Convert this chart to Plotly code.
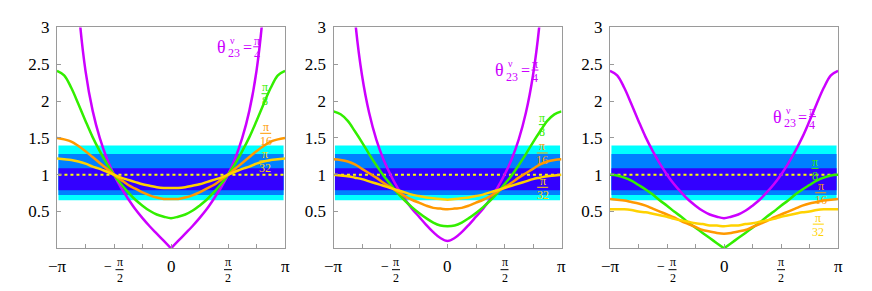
import math
import plotly.graph_objects as go

PI = math.pi

# ---------------- data ----------------
X_STEPS = list(range(-16, 17))            # x = step * pi/16
PANEL1 = {  # theta23^nu = pi/4, pi/8, pi/16, pi/32
    "pi/4": [None, 10.15, 5.03, 3.30, 2.41, 1.87, 1.50, 1.22, 1.00, 0.82, 0.67, 0.53, 0.41, 0.30, 0.20, 0.10, 0.00,
             0.10, 0.20, 0.30, 0.41, 0.53, 0.67, 0.82, 1.00, 1.22, 1.50, 1.87, 2.41, 3.30, 5.03, 10.15, None],
    "pi/8": [2.41, 2.35, 2.18, 1.96, 1.73, 1.51, 1.32, 1.15, 1.00, 0.87, 0.76, 0.66, 0.58, 0.51, 0.46, 0.43, 0.41,
             0.43, 0.46, 0.51, 0.58, 0.66, 0.76, 0.87, 1.00, 1.15, 1.32, 1.51, 1.73, 1.96, 2.18, 2.35, 2.41],
    "pi/16": [1.50, 1.48, 1.45, 1.39, 1.32, 1.24, 1.16, 1.08, 1.00, 0.93, 0.86, 0.81, 0.76, 0.72, 0.69, 0.67, 0.67,
              0.67, 0.69, 0.72, 0.76, 0.81, 0.86, 0.93, 1.00, 1.08, 1.16, 1.24, 1.32, 1.39, 1.45, 1.48, 1.50],
    "pi/32": [1.22, 1.21, 1.20, 1.18, 1.15, 1.11, 1.08, 1.04, 1.00, 0.96, 0.93, 0.90, 0.87, 0.85, 0.83, 0.82, 0.82,
              0.82, 0.83, 0.85, 0.87, 0.90, 0.93, 0.96, 1.00, 1.04, 1.08, 1.11, 1.15, 1.18, 1.20, 1.21, 1.22],
}
PANEL2 = {
    "pi/4": [9.90, 7.09, 4.48, 3.13, 2.35, 1.84, 1.48, 1.21, 1.00, 0.82, 0.67, 0.54, 0.43, 0.32, 0.22, 0.14, 0.10,
             0.14, 0.22, 0.32, 0.43, 0.54, 0.67, 0.82, 1.00, 1.21, 1.48, 1.84, 2.35, 3.13, 4.48, 7.09, 9.90],
    "pi/8": [1.86, 1.82, 1.73, 1.59, 1.44, 1.28, 1.13, 0.99, 0.87, 0.75, 0.65, 0.56, 0.48, 0.41, 0.35, 0.31, 0.30,
             0.31, 0.35, 0.41, 0.48, 0.56, 0.65, 0.75, 0.87, 0.99, 1.13, 1.28, 1.44, 1.59, 1.73, 1.82, 1.86],
    "pi/16": [1.21, 1.20, 1.18, 1.14, 1.08, 1.02, 0.96, 0.89, 0.83, 0.77, 0.71, 0.66, 0.62, 0.58, 0.55, 0.54, 0.53,
              0.54, 0.55, 0.58, 0.62, 0.66, 0.71, 0.77, 0.83, 0.89, 0.96, 1.02, 1.08, 1.14, 1.18, 1.20, 1.21],
    "pi/32": [1.00, 0.99, 0.98, 0.96, 0.94, 0.91, 0.88, 0.85, 0.82, 0.79, 0.76, 0.73, 0.71, 0.69, 0.68, 0.67, 0.66,
              0.67, 0.68, 0.69, 0.71, 0.73, 0.76, 0.79, 0.82, 0.85, 0.88, 0.91, 0.94, 0.96, 0.98, 0.99, 1.00],
}
PANEL3 = {
    "pi/4": [2.41, 2.35, 2.18, 1.96, 1.73, 1.51, 1.32, 1.15, 1.00, 0.87, 0.76, 0.66, 0.58, 0.51, 0.46, 0.43, 0.41,
             0.43, 0.46, 0.51, 0.58, 0.66, 0.76, 0.87, 1.00, 1.15, 1.32, 1.51, 1.73, 1.96, 2.18, 2.35, 2.41],
    "pi/8": [1.00, 0.99, 0.96, 0.92, 0.86, 0.80, 0.73, 0.65, 0.58, 0.50, 0.43, 0.35, 0.28, 0.21, 0.14, 0.07, 0.00,
             0.07, 0.14, 0.21, 0.28, 0.35, 0.43, 0.50, 0.58, 0.65, 0.73, 0.80, 0.86, 0.92, 0.96, 0.99, 1.00],
    "pi/16": [0.67, 0.66, 0.65, 0.63, 0.61, 0.58, 0.54, 0.50, 0.46, 0.42, 0.37, 0.33, 0.29, 0.25, 0.23, 0.21, 0.20,
              0.21, 0.23, 0.25, 0.29, 0.33, 0.37, 0.42, 0.46, 0.50, 0.54, 0.58, 0.61, 0.63, 0.65, 0.66, 0.67],
    "pi/32": [0.53, 0.53, 0.53, 0.52, 0.50, 0.49, 0.47, 0.45, 0.43, 0.40, 0.38, 0.36, 0.34, 0.33, 0.31, 0.31, 0.30,
              0.31, 0.31, 0.33, 0.34, 0.36, 0.38, 0.40, 0.43, 0.45, 0.47, 0.49, 0.50, 0.52, 0.53, 0.53, 0.53],
}
PANELS = [PANEL1, PANEL2, PANEL3]
SERIES = ["pi/4", "pi/8", "pi/16", "pi/32"]
V_SHAPED = {(0, "pi/4"), (2, "pi/8")}      # curves with a sharp minimum at x = 0

BAND_LO = [0.654, 0.724, 0.789]            # 3 sigma, 2 sigma, 1 sigma
BAND_HI = [1.395, 1.280, 1.088]
REF_Y = 1.0

Y_TICKS = [0, 0.5, 1, 1.5, 2, 2.5, 3]
Y_TEXT = ["", "0.5", "1", "1.5", "2", "2.5", "3"]
X_TICK_STEPS = [-4, -3, -2, -1, 0, 1, 2, 3, 4]   # ticks at step * pi/4

# label positions (data coords) of the theta label and of the pi/8, pi/16, pi/32 labels
THETA_POS = [(1.397, 2.737), (1.446, 2.421), (1.474, 1.789)]
FRAC_POS = [
    [(2.59, 2.10), (2.609, 1.562), (2.59, 1.188)],
    [(2.612, 1.68), (2.612, 1.295), (2.623, 0.829)],
    [(2.507, 1.085), (2.664, 0.755), (2.598, 0.329)],
]
FRAC_DEN = ["8", "16", "32"]

# ---------------- style ----------------
SERIF = "Liberation Serif, Times New Roman, Times, DejaVu Serif, serif"
COLORS = {"pi/4": "#CC00FF", "pi/8": "#33EE00", "pi/16": "#FF9900", "pi/32": "#FFD200"}
MAGENTA = COLORS["pi/4"]
BAND_COLORS = ["#00FFFF", "#0080FF", "#3300FF"]
FRAME = "#9a9a9a"
BAND_PAD = 0.04
W, H = 872, 291
PANEL_PX = [(57, 285), (333.5, 561.5), (610, 838)]
TOP_PX, BOT_PX = 19, 247
TICK_LABEL_Y = 1 - 265.5 / H
TICK_FRAC_Y = 1 - 269 / H

X = [k * PI / 16 for k in X_STEPS]
X_TICKS = [k * PI / 4 for k in X_TICK_STEPS]

fig = go.Figure()
shapes, anns = [], []


def ann(text, x, y, xref, yref, size, color, dx=0, dy=0):
    return dict(text=text, x=x, y=y, xref=xref, yref=yref, xanchor="center", yanchor="middle",
                xshift=dx, yshift=-dy, showarrow=False, borderpad=0,
                font=dict(family=SERIF, size=size, color=color))


def bar(x, y, xref, yref, halfw, color, dx=0, dy=0):
    return dict(type="line", xref=xref, yref=yref, xsizemode="pixel", ysizemode="pixel",
                xanchor=x, yanchor=y, x0=dx - halfw, x1=dx + halfw, y0=-dy, y1=-dy,
                line=dict(color=color, width=1))


def frac(x, y, xref, yref, num, den, color, size, halfw, dx=0, up=6.5, down=7.5):
    anns.append(ann(num, x, y, xref, yref, size, color, dx=dx, dy=-up))
    anns.append(ann(den, x, y, xref, yref, size, color, dx=dx, dy=down))
    shapes.append(bar(x, y, xref, yref, halfw, color, dx=dx))


layout = {}
for p in range(3):
    xa = "x" if p == 0 else f"x{p + 1}"
    ya = "y" if p == 0 else f"y{p + 1}"
    l, r = PANEL_PX[p]
    layout["xaxis" if p == 0 else f"xaxis{p + 1}"] = dict(
        domain=[l / W, r / W], range=[-PI, PI], anchor=ya,
        showgrid=False, zeroline=False, showline=True, mirror=True,
        linecolor=FRAME, linewidth=1, ticks="inside", ticklen=4, tickcolor=FRAME,
        tickvals=X_TICKS, ticktext=[""] * len(X_TICKS), fixedrange=True)
    layout["yaxis" if p == 0 else f"yaxis{p + 1}"] = dict(
        domain=[1 - BOT_PX / H, 1 - TOP_PX / H], range=[0, 3], anchor=xa,
        showgrid=False, zeroline=False, showline=True, mirror=True,
        linecolor=FRAME, linewidth=1, ticks="inside", ticklen=4, tickcolor=FRAME,
        tickvals=Y_TICKS, ticktext=Y_TEXT, ticklabelstandoff=3,
        tickfont=dict(family=SERIF, size=17, color="black"), fixedrange=True)

    for lo, hi, c in zip(BAND_LO, BAND_HI, BAND_COLORS):
        shapes.append(dict(type="rect", xref=xa, yref=ya, x0=-PI + BAND_PAD, x1=PI - BAND_PAD,
                           y0=lo, y1=hi, fillcolor=c, line=dict(width=0), layer="below"))
    shapes.append(dict(type="line", xref=xa, yref=ya, x0=-PI + BAND_PAD, x1=PI - BAND_PAD,
                       y0=REF_Y, y1=REF_Y, line=dict(color="#FFFF00", width=2, dash="dot"),
                       layer="below"))

    data = PANELS[p]
    for name in SERIES:
        ys = data[name]
        line = dict(color=COLORS[name], width=2.5, shape="spline")
        if (p, name) in V_SHAPED:
            for a, b in ((0, 17), (16, 33)):
                fig.add_trace(go.Scatter(x=X[a:b], y=ys[a:b], mode="lines", xaxis=xa, yaxis=ya,
                                         line=line, showlegend=False, hoverinfo="skip"))
        else:
            fig.add_trace(go.Scatter(x=X, y=ys, mode="lines", xaxis=xa, yaxis=ya,
                                     line=line, showlegend=False, hoverinfo="skip"))

    # theta_23^nu = pi/4 label
    tx, ty = THETA_POS[p]
    anns.append(ann("θ", tx, ty, xa, ya, 18, MAGENTA))
    anns.append(ann("23", tx, ty, xa, ya, 12, MAGENTA, dx=12.5, dy=6.5))
    anns.append(ann("ν", tx, ty, xa, ya, 10, MAGENTA, dx=11, dy=-6.5))
    anns.append(ann("=", tx, ty, xa, ya, 16, MAGENTA, dx=25.5, dy=0.5))
    frac(tx, ty, xa, ya, "π", "4", MAGENTA, 12, 3.5, dx=35, up=6, down=8)
    for k in range(3):
        fx, fy = FRAC_POS[p][k]
        frac(fx, fy, xa, ya, "π", FRAC_DEN[k], COLORS[SERIES[k + 1]], 12, 3.5 if k == 0 else 5.5,
             up=6.5, down=7.5)

    # x tick labels
    anns.append(ann("−π", -PI, TICK_LABEL_Y, xa, "paper", 17, "black"))
    anns.append(ann("0", 0, TICK_LABEL_Y, xa, "paper", 17, "black"))
    anns.append(ann("π", PI, TICK_LABEL_Y, xa, "paper", 17, "black"))
    anns.append(ann("−", -PI / 2, TICK_LABEL_Y, xa, "paper", 14, "black", dx=-6))
    frac(-PI / 2, TICK_FRAC_Y, xa, "paper", "π", "2", "black", 12, 4, dx=5.5, up=7.5, down=8.5)
    frac(PI / 2, TICK_FRAC_Y, xa, "paper", "π", "2", "black", 12, 4, dx=0, up=7.5, down=8.5)

fig.update_layout(width=W, height=H, autosize=False, margin=dict(l=0, r=0, t=0, b=0),
                  paper_bgcolor="white", plot_bgcolor="white", shapes=shapes, annotations=anns,
                  showlegend=False, **layout)
fig.write_html("out.html", config={"displayModeBar": False},
               post_script="document.body.style.margin='0px';")
